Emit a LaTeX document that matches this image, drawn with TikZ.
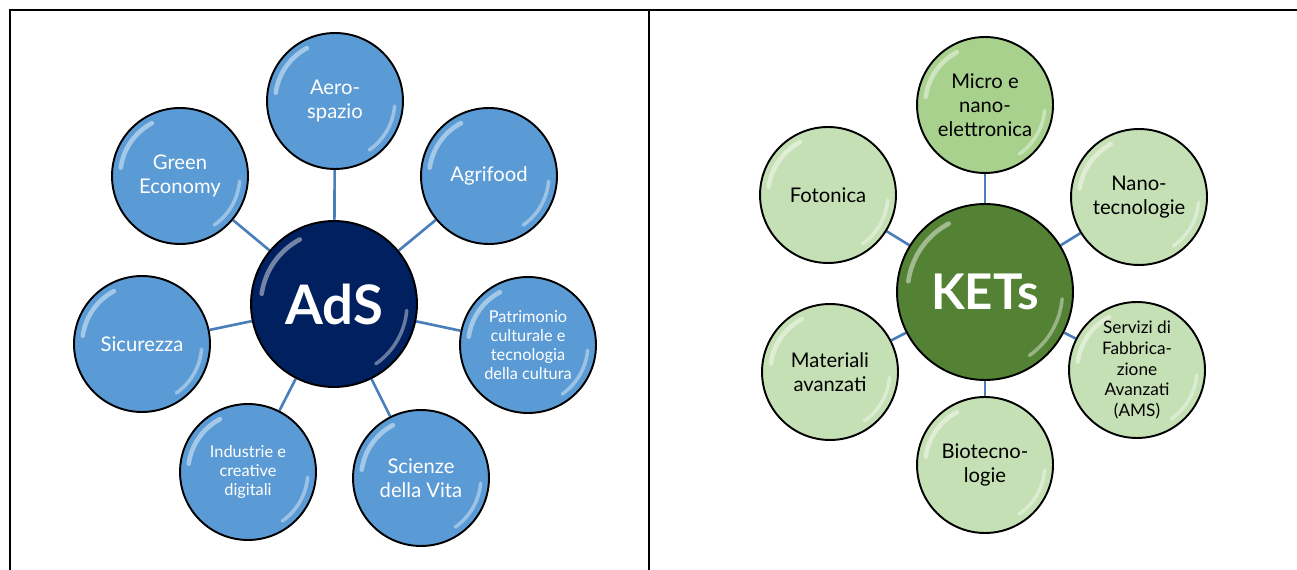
\documentclass[tikz,border=0pt]{standalone}
\usepackage{fontspec}
\setmainfont{Lato}
\usepackage{tikz}
\usetikzlibrary{backgrounds}

\definecolor{adsblue}{HTML}{002060}
\definecolor{areablue}{HTML}{5B9BD5}
\definecolor{ketgreen}{HTML}{548235}
\definecolor{ketlight}{HTML}{C5E0B4}
\definecolor{ketmid}{HTML}{A9D18E}
\definecolor{spokeblue}{HTML}{4A7EBB}

\tikzset{
  bubble/.style={circle, draw=black, line width=1.1pt, minimum size=2*#1, inner sep=0pt, align=center,
    font=\fontsize{11.5}{13.5}\selectfont,
    path picture={
      \draw[white, opacity=.45, line width=2.6pt, line cap=round]
        (path picture bounding box.center) ++(118:0.88*#1) arc (118:172:0.88*#1);
      \draw[white, opacity=.4, line width=2pt, line cap=round]
        (path picture bounding box.center) ++(-5:0.88*#1) arc (-5:-55:0.88*#1);
    }},
  bubble/.default=1.36cm,
  area/.style={bubble, fill=areablue, text=white},
  ket/.style={bubble, fill=ketlight, text=black},
  hub/.style={bubble=#1, font=\fontsize{31}{31}\selectfont\bfseries, text=white},
  small/.style={font=\fontsize{9.3}{10.8}\selectfont},
  spoke/.style={draw=spokeblue, line width=1.5pt},
  frame/.style={draw=black, line width=1.6pt}
}

\begin{document}
\begin{tikzpicture}[x=0.02cm, y=-0.02cm]
  \useasboundingbox (0,0) rectangle (1297,570);
  \draw[frame] (10,570) -- (10,10) -- (1297,10);
  \draw[frame] (649,10) -- (649,570);

  \node[hub=1.66cm, fill=adsblue] (ads) at (334,304) {AdS};
  \node[area] (aero) at (335,101) {Aero-\\spazio};
  \node[area] (agri) at (489,176) {Agrifood};
  \node[area, small] (patr) at (528,345) {Patrimonio\\culturale e\\tecnologia\\della cultura};
  \node[area] (vita) at (421,478) {Scienze\\della Vita};
  \node[area, small] (indu) at (248,472) {Industrie e\\creative\\digitali};
  \node[area] (sicu) at (142,344) {Sicurezza};
  \node[area] (green) at (180,176) {Green\\Economy};

  \node[hub=1.76cm, fill=ketgreen, font=\fontsize{28}{28}\selectfont\bfseries] (kets) at (985,292) {KETs};
  \node[ket, fill=ketmid] (micro) at (985,105) {Micro e\\nano-\\elettronica};
  \node[ket] (nano) at (1139,197) {Nano-\\tecnologie};
  \node[ket, font=\fontsize{9.8}{11.8}\selectfont] (ams) at (1137,370) {Servizi di\\Fabbrica-\\zione\\Avanzati\\(AMS)};
  \node[ket] (bio) at (985,465) {Biotecno-\\logie};
  \node[ket] (mat) at (830,372) {Materiali\\avanzati};
  \node[ket] (foto) at (828,195) {Fotonica};

  \begin{scope}[on background layer]
  \path[spoke]
    (ads) edge (aero)
    (ads) edge (agri)
    (ads) edge (patr)
    (ads) edge (vita)
    (ads) edge (indu)
    (ads) edge (sicu)
    (ads) edge (green)
  ;
  \path[spoke]
    (kets) edge (micro)
    (kets) edge (nano)
    (kets) edge (ams)
    (kets) edge (bio)
    (kets) edge (mat)
    (kets) edge (foto)
  ;
  \end{scope}
\end{tikzpicture}
\end{document}
